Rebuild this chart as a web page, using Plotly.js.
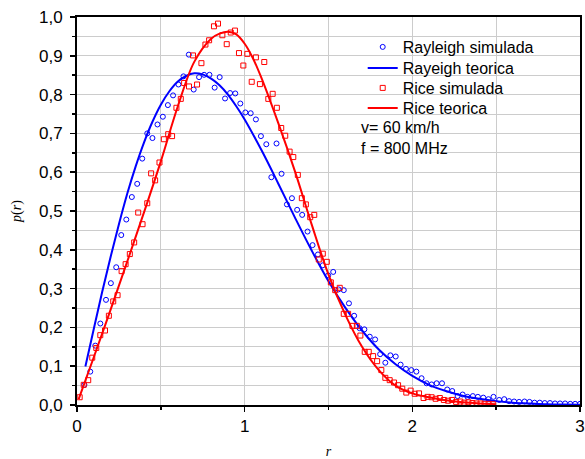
<!DOCTYPE html>
<html>
<head>
<meta charset="utf-8">
<script src="https://cdn.plot.ly/plotly-3.0.1.min.js"></script>
<style>html,body{margin:0;padding:0;background:#fff;}#chart{width:585px;height:459px;}</style>
</head>
<body>
<div id="chart"></div>
<script>
// Rayleigh simulated
const rayleighSimX = [0.044,0.079,0.109,0.139,0.173,0.202,0.234,0.264,0.294,0.327,0.359,0.389,0.419,0.450,0.480,0.512,0.542,0.573,0.605,0.635,0.667,0.696,0.728,0.758,0.790,0.821,0.851,0.883,0.913,0.944,0.974,1.004,1.036,1.067,1.097,1.129,1.159,1.190,1.220,1.252,1.282,1.313,1.343,1.375,1.405,1.437,1.466,1.498,1.528,1.560,1.591,1.622,1.653,1.685,1.714,1.746,1.778,1.808,1.839,1.869,1.901,1.930,1.962,1.994,2.024,2.055,2.085,2.115,2.145,2.177,2.208,2.238,2.270,2.300,2.329,2.361,2.391,2.423,2.454,2.484,2.518,2.548,2.577,2.607,2.637,2.669,2.699,2.729,2.760,2.790,2.821,2.851,2.881,2.911,2.942,2.971,3.000];
const rayleighSimY = [0.052,0.086,0.153,0.210,0.271,0.314,0.355,0.438,0.478,0.536,0.570,0.635,0.700,0.688,0.723,0.743,0.773,0.798,0.826,0.847,0.903,0.813,0.845,0.851,0.851,0.818,0.845,0.790,0.804,0.803,0.777,0.754,0.752,0.736,0.693,0.672,0.587,0.674,0.596,0.517,0.533,0.503,0.490,0.447,0.412,0.388,0.360,0.334,0.343,0.298,0.296,0.262,0.230,0.198,0.195,0.176,0.169,0.131,0.109,0.128,0.125,0.104,0.093,0.090,0.086,0.069,0.056,0.053,0.056,0.056,0.040,0.036,0.023,0.027,0.021,0.023,0.021,0.019,0.015,0.021,0.013,0.015,0.010,0.009,0.008,0.009,0.008,0.006,0.006,0.005,0.005,0.004,0.004,0.004,0.003,0.003,0.003];

// Rayleigh theoretical
const rayleighTeoX = [0.05,0.1,0.15,0.2,0.25,0.3,0.35,0.4,0.45,0.5,0.55,0.6,0.65,0.7,0.75,0.8,0.85,0.9,0.95,1.0,1.1,1.2,1.3,1.4,1.5,1.6,1.7,1.8,1.9,2.0,2.1,2.2,2.3,2.4,2.5,2.6,2.7,2.8,2.9,3.0];
const rayleighTeoY = [0.099,0.196,0.291,0.381,0.466,0.545,0.615,0.677,0.730,0.774,0.808,0.833,0.848,0.855,0.852,0.841,0.824,0.800,0.770,0.736,0.657,0.571,0.483,0.398,0.319,0.251,0.192,0.143,0.105,0.075,0.052,0.036,0.024,0.016,0.010,0.006,0.004,0.002,0.0014,0.0008];

// Rice simulated
const riceSimX = [0.016,0.040,0.067,0.091,0.115,0.139,0.167,0.190,0.216,0.242,0.266,0.290,0.315,0.341,0.365,0.391,0.419,0.442,0.466,0.492,0.518,0.544,0.567,0.593,0.619,0.639,0.668,0.692,0.716,0.742,0.766,0.788,0.817,0.841,0.867,0.893,0.917,0.942,0.966,0.992,1.016,1.042,1.067,1.091,1.117,1.141,1.167,1.192,1.218,1.242,1.268,1.290,1.317,1.341,1.365,1.391,1.415,1.442,1.466,1.490,1.514,1.540,1.567,1.591,1.617,1.643,1.669,1.690,1.716,1.740,1.766,1.790,1.815,1.839,1.865,1.891,1.915,1.940,1.964,1.990,2.014,2.040,2.067,2.091,2.115,2.139,2.164,2.188,2.213,2.237,2.261,2.286,2.310,2.334,2.358,2.383,2.407,2.431,2.455,2.480];
const riceSimY = [0.020,0.052,0.064,0.122,0.147,0.180,0.192,0.230,0.267,0.283,0.345,0.363,0.389,0.419,0.496,0.466,0.520,0.597,0.579,0.625,0.685,0.698,0.693,0.766,0.789,0.830,0.821,0.901,0.826,0.881,0.929,0.940,0.976,0.983,0.953,0.930,0.960,0.965,0.907,0.875,0.905,0.833,0.896,0.827,0.884,0.789,0.802,0.766,0.714,0.694,0.653,0.639,0.593,0.533,0.517,0.484,0.490,0.375,0.390,0.369,0.316,0.296,0.302,0.235,0.235,0.204,0.204,0.179,0.137,0.137,0.126,0.113,0.090,0.070,0.064,0.058,0.051,0.042,0.032,0.037,0.029,0.030,0.018,0.021,0.020,0.016,0.018,0.013,0.011,0.013,0.008,0.009,0.006,0.007,0.005,0.004,0.004,0.003,0.003,0.002];

// Rice theoretical
const riceTeoX = [0.01,0.1,0.2,0.3,0.4,0.5,0.6,0.7,0.8,0.85,0.9,0.95,1.0,1.05,1.1,1.2,1.3,1.4,1.5,1.6,1.7,1.8,1.9,2.0,2.1,2.2,2.3,2.4,2.5];
const riceTeoY = [0.015,0.123,0.245,0.370,0.497,0.628,0.768,0.885,0.944,0.957,0.962,0.955,0.931,0.893,0.843,0.727,0.602,0.465,0.336,0.233,0.150,0.090,0.050,0.030,0.020,0.012,0.007,0.004,0.002];

const legendNames = ['Rayleigh simulada','Rayeigh teorica','Rice simulada','Rice teorica'];
const noteLines = ['v= 60 km/h','f = 800 MHz'];
const xTicks = [0,1,2,3];
const yTicks = [0,0.1,0.2,0.3,0.4,0.5,0.6,0.7,0.8,0.9,1.0];

const blue = '#0000ff';
const red = '#ff0000';

const traces = [
  {x: rayleighSimX, y: rayleighSimY, name: legendNames[0], type: 'scatter', mode: 'markers', legend: 'legend',
   marker: {symbol: 'circle-open', size: 5, color: blue, line: {width: 1, color: blue}}},
  {x: rayleighTeoX, y: rayleighTeoY, name: legendNames[1], type: 'scatter', mode: 'lines', legend: 'legend2',
   line: {color: blue, width: 2, shape: 'spline', smoothing: 1}},
  {x: riceSimX, y: riceSimY, name: legendNames[2], type: 'scatter', mode: 'markers', legend: 'legend3',
   marker: {symbol: 'square-open', size: 5, color: red, line: {width: 1, color: red}}},
  {x: riceTeoX, y: riceTeoY, name: legendNames[3], type: 'scatter', mode: 'lines', legend: 'legend4',
   line: {color: red, width: 2, shape: 'spline', smoothing: 1}}
];

const font = {family: 'Liberation Sans, Arial, sans-serif', size: 16, color: '#000'};
const tickFont = {family: 'Liberation Sans, Arial, sans-serif', size: 17, color: '#000'};

function legendAt(rowPx) {
  return {x: 0.568, y: (405 - rowPx) / 388, xanchor: 'left', yanchor: 'middle',
          bgcolor: 'rgba(0,0,0,0)', font: font, itemwidth: 30};
}

const layout = {
  width: 585, height: 459,
  margin: {l: 77, r: 5, t: 17, b: 54, pad: 0},
  paper_bgcolor: '#fff', plot_bgcolor: '#fff',
  separators: ',.',
  font: font,
  showlegend: true,
  legend: legendAt(47),
  legend2: legendAt(68),
  legend3: legendAt(88),
  legend4: legendAt(108),
  xaxis: {
    range: [0, 3], tickvals: xTicks, ticktext: xTicks.map(String),
    showgrid: true, gridcolor: '#cccccc', gridwidth: 1,
    zeroline: false, showline: true, linecolor: '#000', linewidth: 2, mirror: true,
    ticks: 'outside', ticklen: 5, tickwidth: 1.5, tickcolor: '#000',
    ticklabeloverflow: 'allow',
    minor: {dtick: 0.5, showgrid: true, gridcolor: '#cccccc', gridwidth: 1, ticks: 'outside', ticklen: 3, tickcolor: '#000'},
    tickfont: tickFont,
    title: {text: '<i>r</i>', font: {family: 'Liberation Serif, Times New Roman, serif', size: 14, color: '#000'}, standoff: 12}
  },
  yaxis: {
    range: [0, 1.0], tickvals: yTicks, tickformat: '.1f',
    showgrid: true, gridcolor: '#cccccc', gridwidth: 1,
    zeroline: false, showline: true, linecolor: '#000', linewidth: 2, mirror: true,
    ticks: 'outside', ticklen: 5, tickwidth: 1.5, tickcolor: '#000',
    ticklabelstandoff: 4,
    minor: {dtick: 0.05, showgrid: true, gridcolor: '#cccccc', gridwidth: 1, ticks: 'outside', ticklen: 3, tickcolor: '#000'},
    tickfont: tickFont,
    title: {text: '<i>p</i>(<i>r</i>)', font: {family: 'Liberation Serif, Times New Roman, serif', size: 14, color: '#000'}, standoff: 14}
  },
  annotations: [
    {xref: 'paper', yref: 'paper', x: 0.56, y: 0.714, xanchor: 'left', yanchor: 'middle', showarrow: false, text: noteLines[0], font: font},
    {xref: 'paper', yref: 'paper', x: 0.56, y: 0.660, xanchor: 'left', yanchor: 'middle', showarrow: false, text: noteLines[1], font: font}
  ]
};

Plotly.newPlot('chart', traces, layout, {displayModeBar: false, staticPlot: true});
</script>
</body>
</html>
